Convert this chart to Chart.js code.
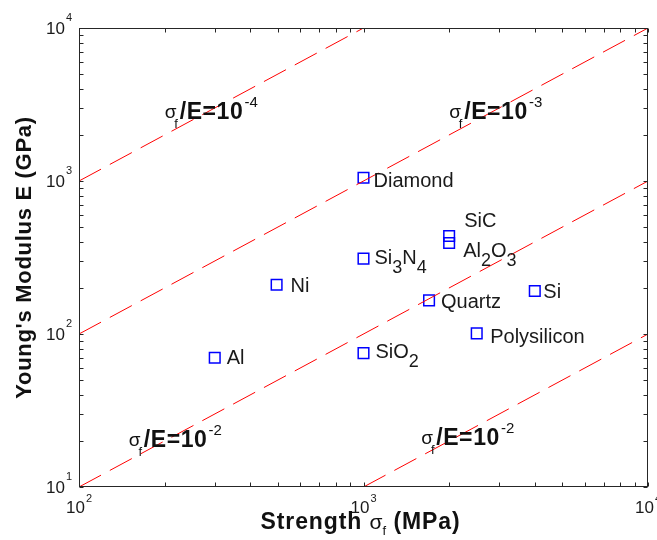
<!DOCTYPE html>
<html><head><meta charset="utf-8">
<script src="https://cdn.jsdelivr.net/npm/chart.js@4/dist/chart.umd.min.js"></script>
<style>html,body{margin:0;padding:0;background:#fff;}#wrap{width:657px;height:540px;}</style>
</head><body><div id="wrap"><canvas id="c" width="657" height="540"></canvas></div>
<script>
// ---- data ----
const materials   = ['Diamond','SiC','Al2O3','Si3N4','Ni','Quartz','Si','Al','SiO2','Polysilicon'];
const strengthMPa = [1000, 2000, 2000, 1000, 495, 1700, 4000, 300, 1000, 2500];
const modulusGPa  = [1050, 437, 393, 311, 210, 166, 191, 70, 75, 101];

// constant sigma_f/E guide lines (end points)
const guideExponent     = ['-4', '-3', '-2', '-2'];
const guideStrengthFrom = [100, 100, 100, 1000];
const guideModulusFrom  = [1000, 100, 10, 10];
const guideStrengthTo   = [1000, 10000, 10000, 10000];
const guideModulusTo    = [10000, 10000, 1000, 100];

const xTickValues = [100, 1000, 10000];
const xTickExp    = ['2', '3', '4'];
const yTickValues = [10, 100, 1000, 10000];
const yTickExp    = ['1', '2', '3', '4'];

// ---- styling / placement (not data) ----
const labelOffset = { // pixel offsets of label (left, baseline) from marker centre
  'Diamond':[10,9], 'SiC':[15,-9], 'Al2O3':[14,14], 'Si3N4':[11,5.5], 'Ni':[14,7.5],
  'Quartz':[12,7.5], 'Si':[8.5,7], 'Al':[12,6.5], 'SiO2':[12,4.5], 'Polysilicon':[13.5,9.5]
};
const guideLabelAnchor = [[200,2541],[2000,2541],[149.6,18.3],[1595,18.8]];

const FONT = 'Arial, "Liberation Sans", Helvetica, sans-serif';
const AX = '#262626';

function drawRuns(ctx, runs, x, y) {
  let cx = x;
  for (const r of runs) {
    ctx.font = r.font;
    ctx.letterSpacing = r.ls || '0px';
    cx += r.dx || 0;
    ctx.fillText(r.text, cx, y + (r.dy || 0));
    cx += ctx.measureText(r.text).width;
  }
  ctx.letterSpacing = '0px';
  return cx;
}
function measureRuns(ctx, runs) {
  let w = 0;
  for (const r of runs) {
    ctx.font = r.font; ctx.letterSpacing = r.ls || '0px';
    w += (r.dx || 0) + ctx.measureText(r.text).width;
  }
  ctx.letterSpacing = '0px';
  return w;
}

const axesPlugin = {
  id: 'matlabAxes',
  afterDatasetsDraw(chart) {
    const ctx = chart.ctx, a = chart.chartArea;
    const xs = chart.scales.x, ys = chart.scales.y;
    ctx.save();
    // box
    ctx.strokeStyle = AX; ctx.lineWidth = 1;
    const L = Math.round(a.left) + 0.5, R = Math.round(a.right) - 0.5;
    const T = Math.round(a.top) + 0.5, B = Math.round(a.bottom) - 0.5;
    ctx.strokeRect(L, T, R - L, B - T);
    // ticks (major + minor), inside, all four sides
    const tl = 4;
    ctx.beginPath();
    for (let d = 2; d <= 4; d++) for (let m = 1; m <= 9; m++) {
      const v = m * Math.pow(10, d);
      if (v < xs.min || v > xs.max) continue;
      const px = Math.round(xs.getPixelForValue(v)) + 0.5;
      ctx.moveTo(px, B); ctx.lineTo(px, B - tl);
      ctx.moveTo(px, T); ctx.lineTo(px, T + tl);
    }
    for (let d = 1; d <= 4; d++) for (let m = 1; m <= 9; m++) {
      const v = m * Math.pow(10, d);
      if (v < ys.min || v > ys.max) continue;
      const py = Math.round(ys.getPixelForValue(v)) + 0.5;
      ctx.moveTo(L, py); ctx.lineTo(L + tl, py);
      ctx.moveTo(R, py); ctx.lineTo(R - tl, py);
    }
    ctx.stroke();

    // tick labels
    ctx.fillStyle = '#1a1a1a';
    ctx.textBaseline = 'alphabetic'; ctx.textAlign = 'left';
    xTickValues.forEach((v, i) => {
      const px = xs.getPixelForValue(v);
      const runs = [{text:'10', font:'17px ' + FONT}, {text:xTickExp[i], font:'11px ' + FONT, dx:1, dy:-11}];
      const w = measureRuns(ctx, runs);
      drawRuns(ctx, runs, px - w / 2, a.bottom + 26);
    });
    yTickValues.forEach((v, i) => {
      const py = ys.getPixelForValue(v);
      const runs = [{text:'10', font:'17px ' + FONT}, {text:yTickExp[i], font:'11px ' + FONT, dx:1, dy:-13}];
      const w = measureRuns(ctx, runs);
      drawRuns(ctx, runs, a.left - 7 - w, py + 6);
    });

    // material labels
    ctx.fillStyle = '#1a1a1a';
    materials.forEach((name, i) => {
      const px = xs.getPixelForValue(strengthMPa[i]);
      const py = ys.getPixelForValue(modulusGPa[i]);
      const off = labelOffset[name];
      const runs = name.split(/(\d+)/).filter(s => s.length).map(s =>
        /^\d+$/.test(s) ? {text:s, font:'18px ' + FONT, dy:9} : {text:s, font:'20px ' + FONT});
      drawRuns(ctx, runs, px + off[0], py + off[1]);
    });

    // sigma_f / E annotations
    guideExponent.forEach((e, i) => {
      const px = xs.getPixelForValue(guideLabelAnchor[i][0]);
      const py = ys.getPixelForValue(guideLabelAnchor[i][1]);
      ctx.fillStyle = '#111';
      ctx.font = '19px ' + FONT;
      ctx.fillText('\u03C3', px, py - 1);
      const sw = ctx.measureText('\u03C3').width;
      ctx.font = '13px ' + FONT;
      ctx.fillText('f', px + sw - 2, py + 9);
      drawRuns(ctx, [
        {text:'/E=10', font:'bold 23px ' + FONT, ls:'0.6px'},
        {text:e, font:'15px ' + FONT, dx:1, dy:-12}
      ], px + 15, py);
    });

    // axis titles
    ctx.fillStyle = '#111';
    const xt = [
      {text:'Strength ', font:'bold 23px ' + FONT, ls:'0.9px'},
      {text:'\u03C3', font:'21px ' + FONT},
      {text:'f', font:'13px ' + FONT, dy:6},
      {text:' (MPa)', font:'bold 23px ' + FONT, ls:'0.9px'}
    ];
    const xw = measureRuns(ctx, xt);
    drawRuns(ctx, xt, (a.left + a.right) / 2 - 3 - xw / 2, 529);

    ctx.save();
    ctx.translate(31, (a.top + a.bottom) / 2);
    ctx.rotate(-Math.PI / 2);
    const yt = [{text:"Young's Modulus E (GPa)", font:'bold 22px ' + FONT, ls:'0.7px'}];
    const yw = measureRuns(ctx, yt);
    drawRuns(ctx, yt, -yw / 2, 0);
    ctx.restore();

    ctx.restore();
  }
};

const datasets = [];
for (let i = 0; i < guideExponent.length; i++) {
  datasets.push({
    data: [{x: guideStrengthFrom[i], y: guideModulusFrom[i]}, {x: guideStrengthTo[i], y: guideModulusTo[i]}],
    showLine: true, borderColor: '#ff0000', borderWidth: 1, borderDash: [25, 10],
    pointRadius: 0, fill: false, clip: 0
  });
}
datasets.push({
  data: strengthMPa.map((s, i) => ({x: s, y: modulusGPa[i]})),
  pointStyle: 'rect', pointRadius: 7.5, borderColor: '#0000ff', backgroundColor: 'rgba(0,0,0,0)',
  borderWidth: 1.5, pointBorderWidth: 1.5, clip: false
});

new Chart(document.getElementById('c'), {
  type: 'scatter',
  data: { datasets },
  options: {
    responsive: false, animation: false, devicePixelRatio: 1,
    layout: { padding: { left: 79, top: 28, right: 6, bottom: 53 } },
    plugins: { legend: { display: false }, tooltip: { enabled: false } },
    scales: {
      x: { type: 'logarithmic', min: 100, max: 10000, display: false },
      y: { type: 'logarithmic', min: 10, max: 10000, display: false }
    }
  },
  plugins: [axesPlugin]
});
</script></body></html>
